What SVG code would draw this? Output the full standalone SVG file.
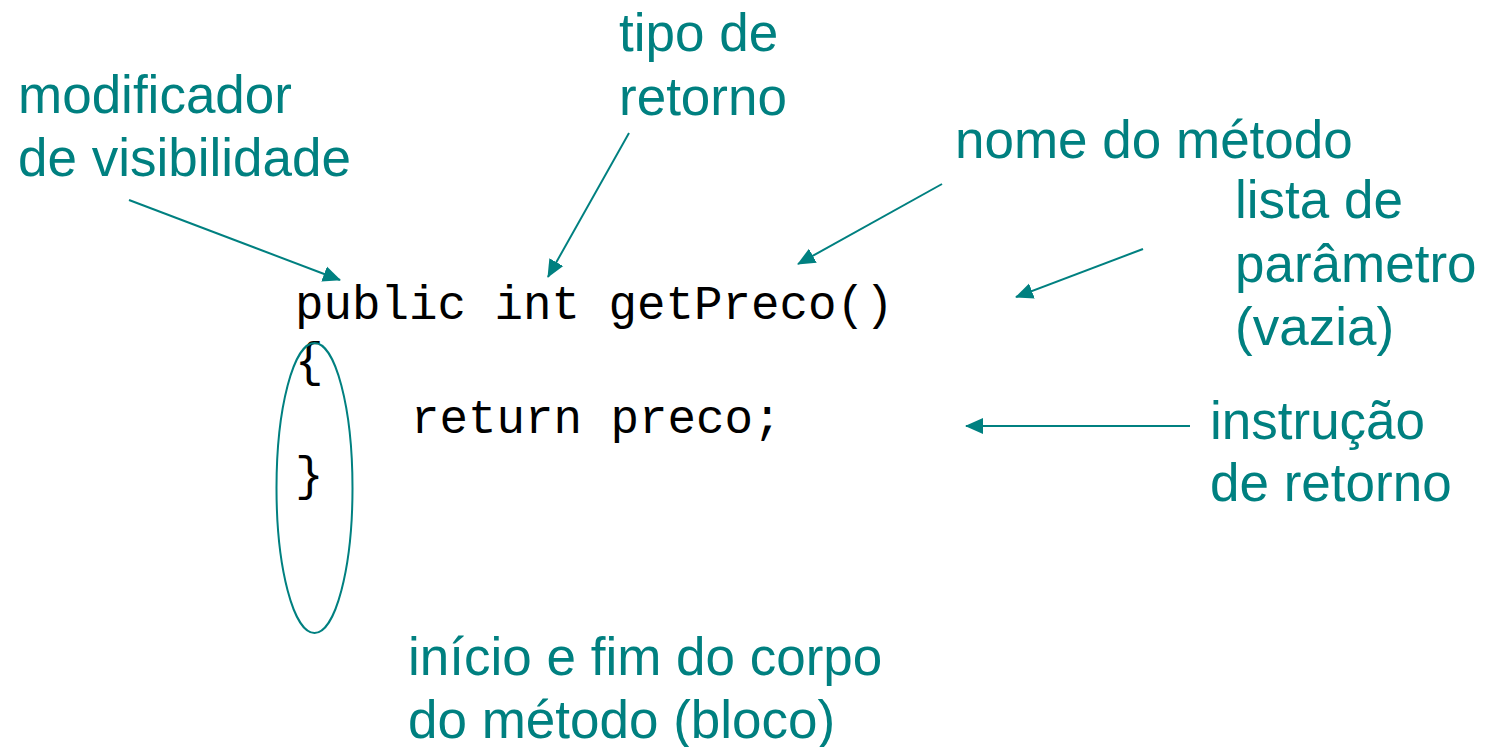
<svg xmlns="http://www.w3.org/2000/svg" width="1486" height="747" viewBox="0 0 1486 747">
<style>
.lbl{font-family:"Liberation Sans",Arial,sans-serif;font-size:53px;fill:#008080}
.code{font-family:"Liberation Mono","Courier New",monospace;font-size:47.5px;fill:#000}
.con{stroke:#008080;stroke-width:2;fill:none}
</style>
<defs>
<marker id="ah" markerUnits="userSpaceOnUse" markerWidth="18" markerHeight="18" refX="17" refY="8" orient="auto" viewBox="0 0 18 16">
<path d="M0,0 L18,8 L0,16 Z" fill="#008080"/>
</marker>
</defs>
<rect width="1486" height="747" fill="#fff"/>
<g id="code">
<text class="code" x="295" y="319">public int getPreco()</text>
<text class="code" x="295" y="376">{</text>
<text class="code" x="411" y="433">return preco;</text>
<text class="code" x="295" y="490">}</text>
</g>
<g id="modificador"><text class="lbl"><tspan x="18" y="113">modificador</tspan><tspan x="18" y="176">de visibilidade</tspan></text></g>
<g id="tipo"><text class="lbl"><tspan x="619" y="51">tipo de</tspan><tspan x="619" y="115">retorno</tspan></text></g>
<g id="nome"><text class="lbl"><tspan x="955" y="158">nome do método</tspan></text></g>
<g id="lista"><text class="lbl"><tspan x="1235" y="218">lista de</tspan><tspan x="1235" y="282">parâmetro</tspan><tspan x="1235" y="345">(vazia)</tspan></text></g>
<g id="instrucao"><text class="lbl"><tspan x="1210" y="439">instrução</tspan><tspan x="1210" y="501">de retorno</tspan></text></g>
<g id="bloco"><text class="lbl"><tspan x="408" y="675">início e fim do corpo</tspan><tspan x="408" y="738">do método (bloco)</tspan></text></g>
<g id="ellipse"><ellipse class="con" cx="314.5" cy="488" rx="38" ry="145"/></g>
<g id="connectors">
<line class="con" x1="129" y1="200" x2="340" y2="280" marker-end="url(#ah)"/>
<line class="con" x1="629" y1="133" x2="548" y2="277" marker-end="url(#ah)"/>
<line class="con" x1="942" y1="184" x2="798" y2="264" marker-end="url(#ah)"/>
<line class="con" x1="1143" y1="249" x2="1016" y2="297" marker-end="url(#ah)"/>
<line class="con" x1="1190" y1="426" x2="966" y2="426" marker-end="url(#ah)"/>
</g>
</svg>
